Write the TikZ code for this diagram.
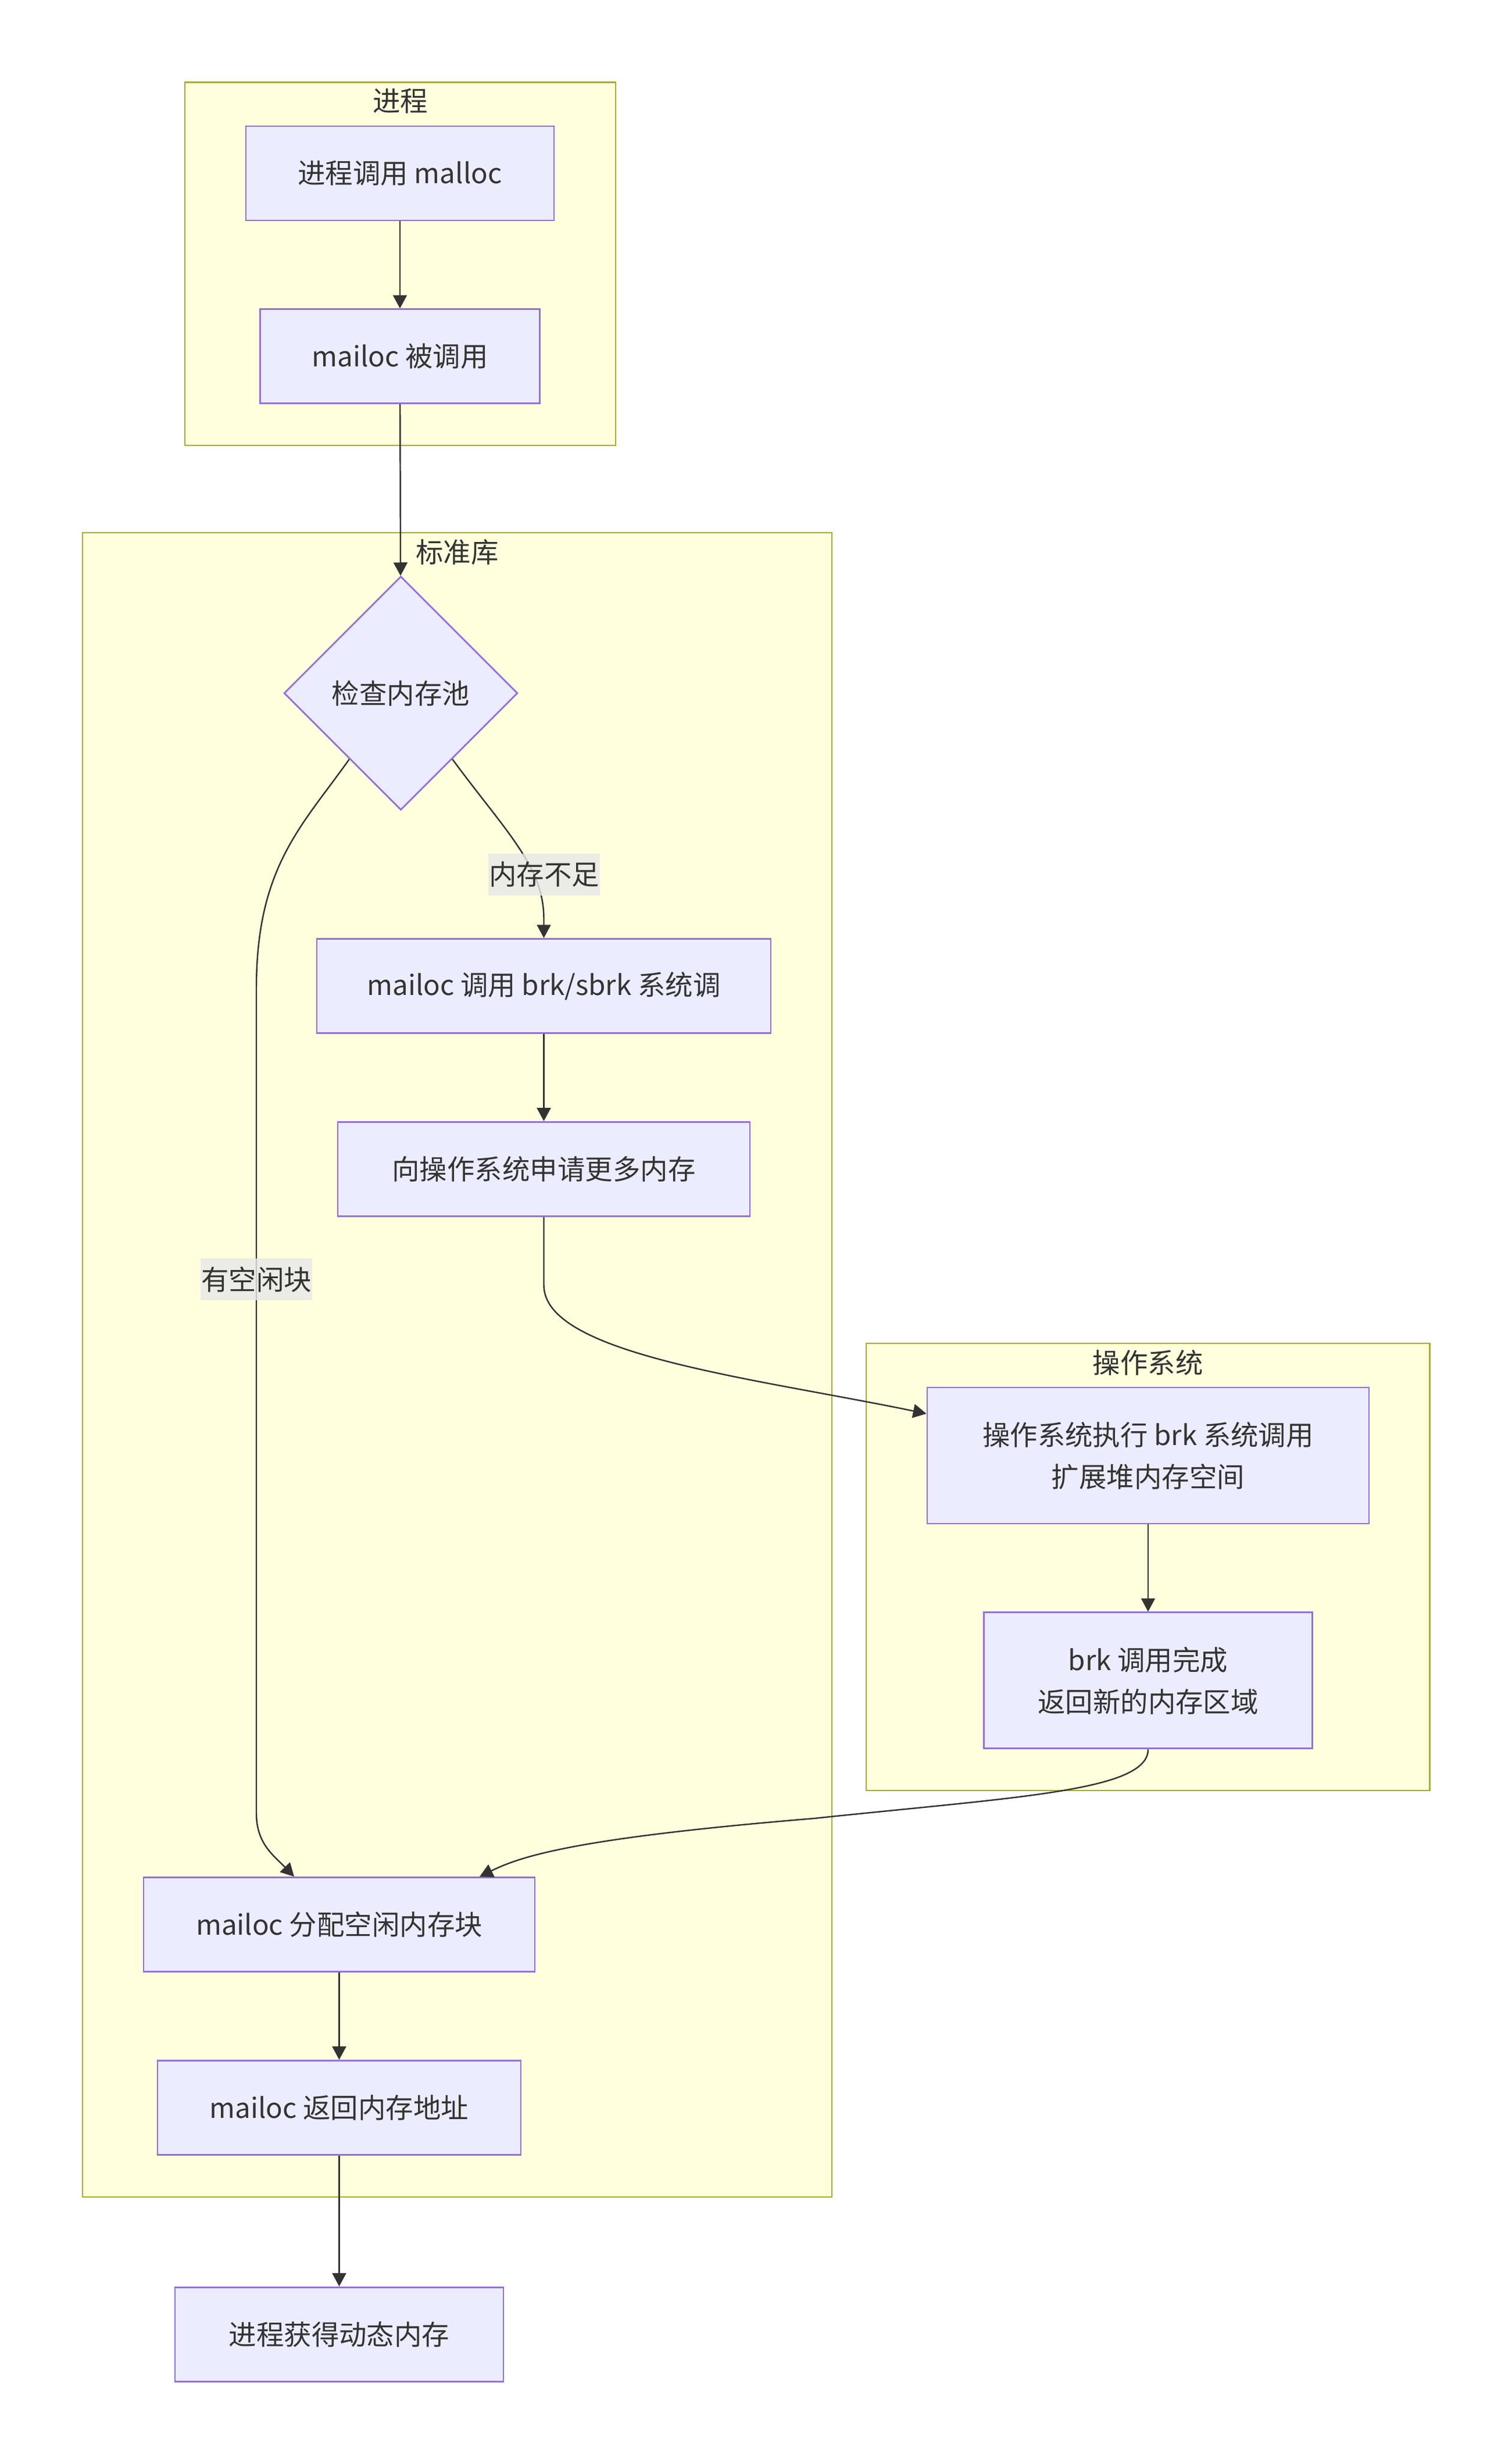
\documentclass[tikz,border=0pt]{standalone}
\usepackage{fontspec}
\setmainfont{Noto Sans CJK SC}
\usetikzlibrary{shapes.geometric,positioning,arrows.meta}
\definecolor{boxfill}{HTML}{ECECFF}
\definecolor{boxline}{HTML}{9370DB}
\definecolor{groupfill}{HTML}{FFFFDE}
\definecolor{groupline}{HTML}{AAAA33}
\definecolor{ink}{HTML}{333333}
\definecolor{tagfill}{HTML}{E8E8E8}

\begin{document}
\begin{tikzpicture}[x=1cm, y=-1cm,
  font=\fontsize{13.5}{20.5}\selectfont, text=ink,
  group/.style={draw=groupline, fill=groupfill, line width=0.8pt, inner sep=0pt},
  box/.style={draw=boxline, fill=boxfill, line width=0.8pt, align=center, minimum height=1.62cm, inner sep=0pt},
  decision/.style={diamond, aspect=1, draw=boxline, fill=boxfill, line width=0.8pt, minimum width=4.02cm, minimum height=4.02cm, inner sep=0pt},
  flow/.style={draw=ink, line width=0.7pt, -{Triangle[length=6.5pt, width=6.8pt]}},
  tag/.style={fill=tagfill, fill opacity=0.8, text opacity=1, minimum width=1.92cm, minimum height=0.72cm, inner sep=0pt},
]
\useasboundingbox (0,0) rectangle (26.01,42.32);

\node[group, minimum width=7.41cm, minimum height=6.244cm] (proc) at (6.885,4.538) {};
\node[group, minimum width=12.89cm, minimum height=28.62cm] (lib) at (7.865,23.47) {};
\node[group, minimum width=9.695cm, minimum height=7.69cm] (os) at (19.748,26.945) {};
\node (proctitle) at ([yshift=-0.34cm]proc.north) {进程};
\node (libtitle) at ([yshift=-0.35cm]lib.north) {标准库};
\node (ostitle) at ([yshift=-0.35cm]os.north) {操作系统};

\node[box, minimum width=5.30cm] (call) at (6.88,2.98) {进程调用 malloc};
\node[box, minimum width=4.81cm, below=1.5cm of call] (called) {mailoc 被调用};
\node[decision] (check) at (6.895,11.92) {检查内存池};
\node[box, minimum width=7.81cm] (brk) at (9.355,16.955) {mailoc 调用 brk/sbrk 系统调};
\node[box, minimum width=7.09cm, below=1.5cm of brk] (ask) {向操作系统申请更多内存};
\node[box, minimum width=7.60cm, minimum height=2.34cm] (exec) at (19.75,25.03) {操作系统执行 brk 系统调用\\扩展堆内存空间};
\node[box, minimum width=5.65cm, minimum height=2.34cm, below=1.5cm of exec] (done) {brk 调用完成\\返回新的内存区域};
\node[box, minimum width=6.73cm] (alloc) at (5.835,33.095) {mailoc 分配空闲内存块};
\node[box, minimum width=6.25cm, below=1.5cm of alloc] (ret) {mailoc 返回内存地址};
\node[box, minimum width=5.65cm, below=2.25cm of ret] (got) {进程获得动态内存};

\draw[flow] (call) -- (called);
\draw[flow] (called) -- (check);
\draw[flow] (check.-52) .. controls (8.70,14.30) and (9.355,14.90) .. (9.355,15.80) -- (brk);
\draw[flow] (check.-128) .. controls (5.20,14.20) and (4.41,14.90) .. (4.41,17.00) -- (4.41,31.18) .. controls (4.41,31.70) and (4.70,31.90) .. ([xshift=-0.775cm]alloc.north);
\draw[flow] (brk) -- (ask);
\draw[flow] (ask) -- (9.355,22.10) .. controls (9.355,23.30) and (13.00,23.70) .. ([yshift=0.72cm]exec.west);
\draw[flow] (exec) -- (done);
\draw[flow] (done) .. controls (19.75,30.80) and (17.50,30.90) .. (14.00,31.27) .. controls (10.00,31.60) and (9.00,31.90) .. ([xshift=2.415cm]alloc.north);
\draw[flow] (alloc) -- (ret);
\draw[flow] (ret) -- (got);

\node[tag] (short) at (9.36,15.04) {内存不足};
\node[tag] (free) at (4.41,22.00) {有空闲块};
\end{tikzpicture}
\end{document}
